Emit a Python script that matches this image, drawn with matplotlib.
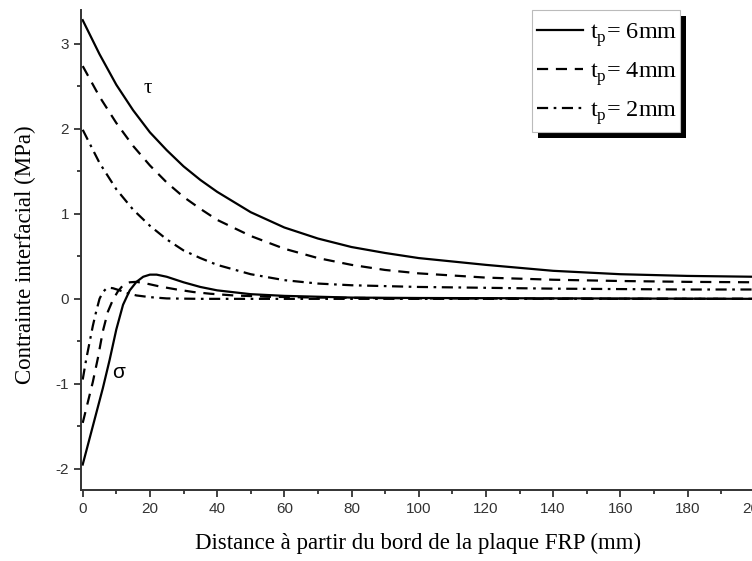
import matplotlib
matplotlib.use("Agg")
import matplotlib.pyplot as plt
from matplotlib.patches import Rectangle
from matplotlib.transforms import IdentityTransform
from matplotlib.ticker import MultipleLocator

plt.rcParams["axes.unicode_minus"] = False

# ---- data ----
tau_x_6 = [0, 5, 10, 15, 20, 25, 30, 35, 40, 50, 60, 70, 80, 90, 100, 120, 140, 160, 180, 200]
tau_y_6 = [3.28, 2.88, 2.52, 2.22, 1.96, 1.75, 1.56, 1.40, 1.26, 1.02, 0.84, 0.71, 0.61, 0.54, 0.48, 0.40, 0.33, 0.29, 0.27, 0.26]

tau_x_4 = [0, 5, 10, 15, 20, 25, 30, 35, 40, 50, 60, 70, 80, 90, 100, 120, 140, 160, 180, 200]
tau_y_4 = [2.74, 2.38, 2.07, 1.80, 1.57, 1.37, 1.20, 1.06, 0.93, 0.74, 0.59, 0.48, 0.40, 0.34, 0.30, 0.25, 0.225, 0.21, 0.20, 0.195]

tau_x_2 = [0, 5, 10, 15, 20, 25, 30, 35, 40, 50, 60, 70, 80, 100, 120, 140, 160, 180, 200]
tau_y_2 = [1.99, 1.60, 1.29, 1.05, 0.86, 0.70, 0.57, 0.48, 0.40, 0.29, 0.22, 0.18, 0.16, 0.14, 0.13, 0.12, 0.115, 0.11, 0.11]

sig_x_6 = [0, 2, 4, 6, 8, 10, 12, 14, 16, 18, 20, 22, 25, 30, 35, 40, 50, 60, 80, 100, 150, 200]
sig_y_6 = [-1.95, -1.65, -1.35, -1.05, -0.72, -0.36, -0.07, 0.10, 0.20, 0.26, 0.285, 0.285, 0.26, 0.195, 0.14, 0.10, 0.055, 0.035, 0.015, 0.01, 0.005, 0.0]

sig_x_4 = [0, 1.5, 3, 4.5, 6, 7.5, 9, 10.5, 12, 14, 16, 19, 23, 28, 33, 38, 45, 55, 70, 100, 200]
sig_y_4 = [-1.46, -1.22, -0.98, -0.70, -0.38, -0.15, -0.01, 0.09, 0.16, 0.195, 0.20, 0.18, 0.145, 0.11, 0.08, 0.06, 0.04, 0.025, 0.015, 0.005, 0.0]

sig_x_2 = [0, 1, 2, 3, 4, 5, 6, 7, 8, 9, 11, 13, 16, 20, 25, 35, 200]
sig_y_2 = [-0.95, -0.72, -0.52, -0.32, -0.15, 0.0, 0.08, 0.12, 0.13, 0.125, 0.10, 0.07, 0.04, 0.02, 0.005, 0.0, 0.0]

labels = [r"t$_\mathregular{p}$= 6mm", r"t$_\mathregular{p}$= 4mm", r"t$_\mathregular{p}$= 2mm"]
x_ticks = [0, 20, 40, 60, 80, 100, 120, 140, 160, 180, 200]
y_ticks = [-2, -1, 0, 1, 2, 3]

# ---- figure ----
W, H = 752, 561
fig = plt.figure(figsize=(W / 100, H / 100), dpi=100)
ax = fig.add_axes([80.7 / W, 1 - 490 / H, (754.7 - 80.7) / W, (490 - 10) / H])

serif = ["Liberation Serif", "DejaVu Serif"]
lw = 1.6
solid = dict(color="black", lw=lw, linestyle="-")
dashed = dict(color="black", lw=lw, linestyle=(0, (5, 3.5)))
dashdot = dict(color="black", lw=lw, linestyle=(0, (5, 2.5, 1.2, 2.5)))

l6, = ax.plot(tau_x_6, tau_y_6, **solid, label=labels[0])
l4, = ax.plot(tau_x_4, tau_y_4, **dashed, label=labels[1])
l2, = ax.plot(tau_x_2, tau_y_2, **dashdot, label=labels[2])
ax.plot(sig_x_6, sig_y_6, **solid)
ax.plot(sig_x_4, sig_y_4, **dashed)
ax.plot(sig_x_2, sig_y_2, **dashdot)

ax.text(19.4, 2.48, "τ", fontsize=15, family=serif, ha="center", va="center")
ax.text(10.6, -0.87, "σ", fontsize=15, family=["Liberation Sans", "DejaVu Sans"], ha="center", va="center")

ax.set_xlim(-0.6, 200)
ax.set_ylim(-2.25, 3.40)
ax.set_xticks(x_ticks)
ax.set_yticks(y_ticks)
ax.xaxis.set_minor_locator(MultipleLocator(10))
ax.yaxis.set_minor_locator(MultipleLocator(0.5))

for s in ["top", "right"]:
    ax.spines[s].set_visible(False)
for s in ["left", "bottom"]:
    ax.spines[s].set_linewidth(1.4)
    ax.spines[s].set_color("#333333")

ax.tick_params(which="major", direction="out", length=5, width=1.3, color="#333333",
               labelsize=11, labelcolor="#333333")
ax.tick_params(which="minor", direction="out", length=3, width=1.3, color="#333333")
for lab in ax.get_xticklabels() + ax.get_yticklabels():
    lab.set_family(["Liberation Sans", "DejaVu Sans"])

ax.set_xlabel("Distance à partir du bord de la plaque FRP (mm)", fontsize=16.5, family=serif)
ax.set_ylabel("Contrainte interfacial (MPa)", fontsize=16.5, family=serif)
ax.xaxis.set_label_coords(0.5, (490 - 533) / 480)
ax.yaxis.set_label_coords((36 - 80.7) / 674, (490 - 255) / 480)

# legend: frame and shadow drawn at the reference pixel box, entries without frame
leg = ax.legend(handles=[l6, l4, l2], loc="upper left",
                bbox_to_anchor=(526 / W, 1 - 10 / H), bbox_transform=fig.transFigure,
                borderaxespad=0, prop={"family": serif, "size": 17.5},
                handlelength=1.9, handletextpad=0.3, labelspacing=0.47,
                borderpad=0.45, frameon=False)
leg.set_zorder(7)

box_x0, box_x1, box_top, box_bot = 532, 680, 10, 132
frame = Rectangle((box_x0, H - box_bot), box_x1 - box_x0, box_bot - box_top,
                  transform=IdentityTransform(), facecolor="white", edgecolor="#bbbbbb",
                  linewidth=0.8, zorder=6, clip_on=False)
shadow = Rectangle((box_x0 + 6, H - box_bot - 6), box_x1 - box_x0, box_bot - box_top,
                   transform=IdentityTransform(), facecolor="black", edgecolor="none",
                   zorder=5.5, clip_on=False)
ax.add_patch(shadow)
ax.add_patch(frame)

fig.savefig("out.png", dpi=100)
